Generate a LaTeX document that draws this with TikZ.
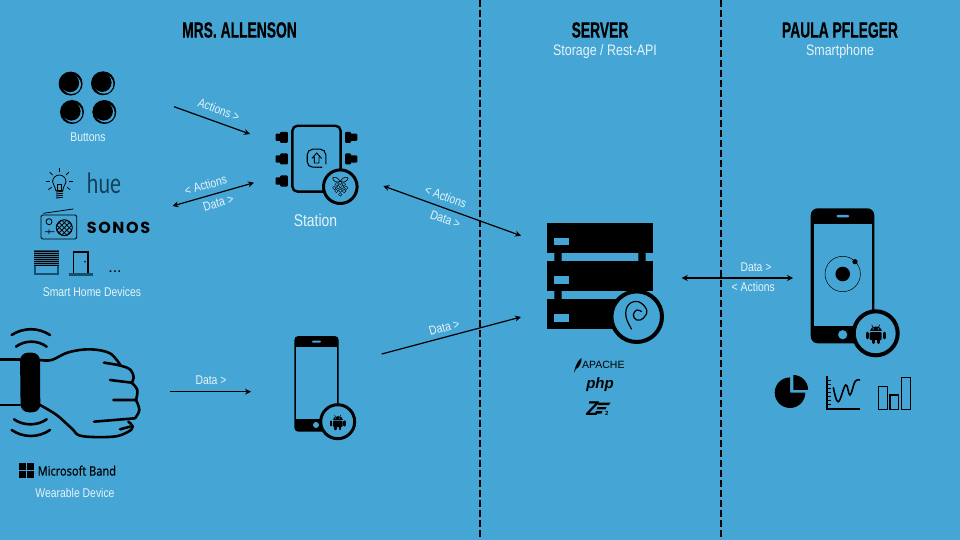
\documentclass[tikz,border=0pt]{standalone}
\usepackage{fontspec}
\usetikzlibrary{arrows.meta}
\setmainfont{Liberation Sans}[FakeStretch=0.82]
\newfontfamily\headfont{Liberation Sans}[FakeStretch=0.63,BoldFeatures={FakeBold=0.5}]
\newfontfamily\plainfont{Liberation Sans}
\newfontfamily\msfont{Open Sans}[FakeStretch=0.85,FakeBold=0.6]
\newfontfamily\huefont{Lato}[FakeStretch=0.74]
\newfontfamily\sonosfont{Poppins}[LetterSpace=10]
\definecolor{sky}{HTML}{45A6D5}
\definecolor{paper}{HTML}{E6F3FA}
\definecolor{navy}{HTML}{16506F}
\tikzstyle{lane} = [draw, line width=1.5pt, dash pattern=on 7pt off 3pt]
\tikzstyle{flow} = [draw, line width=1.2pt, -{Stealth[length=6pt,width=6pt]}]
\tikzstyle{both flow} = [draw, line width=1.2pt, {Stealth[length=6pt,width=6pt]}-{Stealth[length=6pt,width=6pt]}]
\tikzstyle{title} = [inner sep=0pt, font=\headfont\bfseries\fontsize{22}{22}\selectfont]
\tikzstyle{sub title} = [inner sep=0pt, text=paper, font=\fontsize{15.2}{16}\selectfont]
\tikzstyle{caption} = [inner sep=0pt, text=paper, font=\fontsize{12.7}{13}\selectfont]
\tikzstyle{badge} = [draw, fill=sky]
\def\laneEnds{(480,0)/laneA, (721,0)/laneB, (480,540)/laneAend, (721,540)/laneBend}
\def\flowEnds{(174,106.7)/actFrom, (250,134)/actTo, (172.5,206)/homeFrom, (254,182.7)/homeTo, (170,391.7)/bandFrom, (251,391.7)/bandTo, (383.3,186)/stationFrom, (521,235.7)/stationTo, (381.7,354)/phoneFrom, (521,317)/phoneTo, (681.7,278)/serverFrom, (793,278)/serverTo}
\def\captions{(88,137)/capButtons/Buttons, (92,292)/capHome/Smart Home Devices, (75,493)/capWear/Wearable Device, (211,380)/capBand/Data >, (756,267.3)/capOut/Data >, (753.3,287.3)/capIn/< Actions}
\def\slanted{(219,109.5)/slantA/-20/Actions >, (205.7,185)/slantB/16/< Actions, (218.3,202.7)/slantC/16/Data >, (445.7,196.7)/slantD/-20/< Actions, (445.3,219.3)/slantE/-20/Data >, (444.3,327.3)/slantF/15/Data >}
% android head at #1,#2 with size #3
\def\droid#1#2#3{
  \begin{scope}[shift={(#1,#2)},scale=#3]
    \fill (-4.8,-1.8) .. controls (-4.8,-6.6) and (4.8,-6.6) .. (4.8,-1.8) -- cycle;
    \fill[sky] (-2.1,-3.5) circle [radius=0.6] (2.1,-3.5) circle [radius=0.6];
    \draw[line width=#3*0.5pt] (-3.2,-6.8) -- (-2.2,-5) (3.2,-6.8) -- (2.2,-5);
    \fill[rounded corners=1] (-4.8,-1) -- (4.8,-1) -- (4.8,5.4) -- (-4.8,5.4) -- cycle;
    \draw[line width=#3*2.4pt, line cap=round] (-6.9,-0.2) -- (-6.9,3.6) (6.9,-0.2) -- (6.9,3.6) (-2.1,5) -- (-2.1,7.4) (2.1,5) -- (2.1,7.4);
  \end{scope}
}
\begin{document}
\begin{tikzpicture}[x=1pt,y=-1pt]

  \useasboundingbox (0,0) rectangle (960,540);
  \fill[sky] (0,0) rectangle (960,540);

  \foreach \pos/\name in \laneEnds {
    \node[coordinate] (\name) at \pos {};
    }
  \path[lane] (laneA) -- (laneAend);
  \path[lane] (laneB) -- (laneBend);

  \node[title] (headAllenson) at (239.5,30) {MRS. ALLENSON};
  \node[title] (headServer) at (600,30) {SERVER};
  \node[title] (headPaula) at (840,30) {PAULA PFLEGER};
  \node[sub title] (subServer) at (605,52) {Storage / Rest-API};
  \node[sub title] (subPaula) at (840,52) {Smartphone};
  \node[sub title,font=\fontsize{17}{17}\selectfont] (capStation) at (315.5,220) {Station};

  \foreach \pos/\name/\txt in \captions {
    \node[caption] (\name) at \pos {\txt};
    }
  \foreach \pos/\name/\rot/\txt in \slanted {
    \node[caption,rotate=\rot] (\name) at \pos {\txt};
    }

  \foreach \pos/\name in \flowEnds {
    \node[coordinate] (\name) at \pos {};
    }
  \path[flow] (actFrom) -- (actTo);
  \path[both flow] (homeFrom) -- (homeTo);
  \path[flow] (bandFrom) -- (bandTo);
  \path[both flow] (stationFrom) -- (stationTo);
  \path[flow] (phoneFrom) -- (phoneTo);
  \path[both flow] (serverFrom) -- (serverTo);

  % buttons
  \foreach \bx/\by in {70.6/83.6, 103/83.3, 72/112, 104.3/112} {
    \fill (\bx,\by) circle [radius=12];
    \fill[sky] (\bx+0.9,\by+0.9) circle [radius=9.5];
    \fill (\bx-0.6,\by-0.6) circle [radius=9.2];
    }

  % hue lamp
  \draw[line width=0.8pt] (55.7,190.5) .. controls (55,185) and (52.6,185) .. (52.6,181.7)
    arc [start angle=180,end angle=360,radius=6.7]
    .. controls (66,185) and (63.5,185) .. (62.8,190.5) -- cycle;
  \draw[line width=0.7pt] (57.7,190) -- (57.7,184.5) -- (61,184.5) -- (61,190);
  \foreach \wy in {192,194,196,198} {
    \draw[line width=0.9pt] (56,\wy) -- (63,\wy-0.8);
    }
  \foreach \ang in {-180,-135,-90,-45,0,36,144} {
    \draw[line width=0.8pt] (59.3,181.7) ++(\ang:9.5) -- ++(\ang:4);
    }
  \node[inner sep=0pt,text=navy!80!black,font=\huefont\fontsize{28}{28}\selectfont] (logoHue) at (104,183.5) {hue};

  % radio
  \draw[line width=0.8pt,rounded corners=1.5] (41,215) rectangle (76.7,239);
  \draw[line width=0.8pt] (43.3,213.3) -- (73.3,209);
  \draw[line width=0.8pt] (49,221.7) circle [radius=3] (45,231.7) -- (54.3,231.7) (49,229.3) -- (49,234);
  \begin{scope}
    \clip (64.3,227.7) circle [radius=8];
    \foreach \off in {-15,-10,-5,0,5,10,15} {
      \draw[line width=0.8pt] (56.3+\off,219.7) -- (72.3+\off,235.7);
      \draw[line width=0.8pt] (72.3+\off,219.7) -- (56.3+\off,235.7);
      }
  \end{scope}
  \draw[line width=0.9pt] (64.3,227.7) circle [radius=8];
  \node[inner sep=0pt,font=\sonosfont\bfseries\fontsize{16}{16}\selectfont] (logoSonos) at (118.5,228.3) {SONOS};

  % shutter, door
  \fill[navy] (34,250) rectangle (59.3,274.7);
  \fill[sky!75!black] (34,250.5) rectangle (59.3,265);
  \fill[sky] (36,265.5) rectangle (57.3,272.7);
  \foreach \sy in {251,253,255,257,259,261,263,265} {
    \draw[line width=1pt] (34,\sy) -- (59.3,\sy);
    }
  \draw[line width=1.3pt] (73.5,272.5) -- (73.5,252) -- (88,252) -- (88,272.5);
  \fill (85,261.7) circle [radius=0.9];
  \fill[navy] (69.3,272.7) rectangle (92.7,275.7);
  \node[inner sep=0pt,font=\plainfont\fontsize{16}{16}\selectfont] (moreDots) at (115,272) {...};

  % station
  \draw[line width=2.4pt,rounded corners=5] (292.4,125.8) rectangle (340.6,191.6);
  \foreach \py in {137.3,159,181} {
    \fill[rounded corners=1] (275.5,\py-3.6) rectangle (282,\py+3.6);
    \fill[rounded corners=1] (280,\py-5.5) rectangle (287.8,\py+5.5);
    }
  \foreach \py in {137.3,159} {
    \fill[rounded corners=1] (345,\py-5.5) rectangle (351,\py+5.5);
    \fill[rounded corners=1] (349,\py-3.6) rectangle (357.3,\py+3.6);
    }
  \draw[line width=1.1pt,rounded corners=5.5] (322,167.2) -- (307.2,167.2) -- (307.2,149.2) -- (325.8,149.2) -- (325.8,164.5);
  \draw[line width=0.9pt] (311.8,158.5) -- (316.7,153) -- (321.6,158.5) (314.3,157) -- (314.3,163) -- (319,163) -- (319,157);
  \draw[line width=1pt,dash pattern=on 1pt off 0.6pt] (315,167.5) -- (323,167.5);
  \draw[badge,line width=3pt] (340.3,186.7) circle [radius=16.8];
  \foreach \bx/\by in {340.3/182.8, 336.8/184.3, 343.8/184.3, 334.4/187.8, 346.2/187.8, 338.3/187.3, 342.3/187.3, 340.3/190.6, 336.4/191, 344.2/191, 340.3/194.4} {
    \draw[line width=0.4pt] (\bx,\by) circle [radius=1.8];
    }
  \draw[line width=0.6pt] (340.3,181.5) .. controls (337,176) and (333.5,177) .. (332.7,178) .. controls (333,181) and (336,183) .. (340.3,181.5)
    .. controls (343,176) and (347,177) .. (348,178) .. controls (347.5,181) and (344.5,183) .. (340.3,181.5);

  % wrist with band
  \begin{scope}[shift={(0,310)},x=0.3333pt,y=-0.3333pt,line width=2.6pt,line cap=round]
    \draw (0,148) -- (60,148) (0,285) -- (60,285);
    \draw plot [smooth,tension=0.6] coordinates {(120,150) (155,150) (205,127) (270,118) (330,130) (362,167)};
    \draw plot [smooth,tension=0.6] coordinates {(312,158) (362,167) (392,180) (401,203) (395,218)};
    \draw (330,210) -- (395,218) (340,270) -- (408,270) (282,335) -- (405,325) (360,358) -- (390,350);
    \draw plot [smooth,tension=0.6] coordinates {(395,218) (412,240) (408,270)};
    \draw plot [smooth,tension=0.6] coordinates {(408,270) (418,300) (405,325)};
    \draw plot [smooth,tension=0.6] coordinates {(385,335) (398,350) (385,365) (340,380) (245,378) (215,355) (170,315) (120,285)};
    \draw (35,75) .. controls (70,52) and (115,52) .. (150,75);
    \draw (48,110) .. controls (75,90) and (113,90) .. (140,110);
    \draw (42,328) .. controls (70,348) and (112,348) .. (140,328);
    \draw (35,360) .. controls (70,384) and (115,384) .. (150,360);
    \fill[rounded corners=8pt] (60,128) -- (120,128) -- (121,307) -- (62,307) -- cycle;
  \end{scope}

  % microsoft band
  \foreach \sx/\sy in {19.3/463.3, 27/463.3, 19.3/471, 27/471} {
    \fill (\sx,\sy) rectangle ++(7,7);
    }
  \node[inner sep=0pt,anchor=west,font=\msfont\fontsize{13}{14}\selectfont] (logoBand) at (37.5,470.7) {Microsoft Band};

  % phone at the wrist
  \fill[rounded corners=4] (294.3,336) rectangle (338.7,431.7);
  \fill[sky] (296,346.7) rectangle (337.3,419);
  \fill[sky,rounded corners=1] (312,340.7) rectangle (321,342.7);
  \fill[sky] (316,425) circle [radius=3];
  \draw[badge,line width=3pt] (337.7,421.7) circle [radius=17];
  \droid{337.7}{421.7}{1}

  % server
  \foreach \uy in {222.7,260.8,299} {
    \fill (546.7,\uy) rectangle (653.3,\uy+30.2);
    \fill[sky] (554.3,\uy+15.3) rectangle (569.3,\uy+22.7);
    }
  \fill (554.3,252) rectangle (561.7,261) (638.3,252) rectangle (645.7,261) (554.3,290) rectangle (561.7,300);
  \draw[badge,line width=4pt] (636.7,316.7) circle [radius=25.3];
  \draw[line width=1.2pt] plot [smooth,tension=0.7] coordinates {(631.7,329.3) (626,316.7) (628.3,305) (638.3,301.7) (646.7,310) (643.3,318.3) (636.7,320) (633.3,315) (636.7,310) (641.7,311.7)};

  % software under the server
  \fill (574,372.7) .. controls (575,366) and (578,360) .. (581.5,358) .. controls (582,362) and (579,368) .. (576,369) -- cycle;
  \node[inner sep=0pt,font=\plainfont\fontsize{10.5}{11}\selectfont] (logoApache) at (603.3,365.3) {APACHE};
  \node[inner sep=0pt,font=\plainfont\bfseries\itshape\fontsize{15}{15}\selectfont] (logoPhp) at (600,384.5) {php};
  \node[inner sep=0pt,font=\plainfont\bfseries\itshape\fontsize{20}{20}\selectfont] (logoZend) at (592.5,408.5) {Z};
  \fill (599,402.6) -- (610.5,402.6) -- (609,405) -- (598,405) -- cycle;
  \fill (597.5,407) -- (606.5,407) -- (605.5,409.3) -- (596.5,409.3) -- cycle;
  \fill (596,411) -- (602.5,411) -- (601.5,413.5) -- (595,413.5) -- cycle;
  \node[inner sep=0pt,font=\plainfont\bfseries\fontsize{6}{6}\selectfont] (logoZendTwo) at (606.7,413.3) {2};

  % big phone
  \fill[rounded corners=7] (810.7,208.3) rectangle (874.3,343.3);
  \fill[sky] (813.7,224.3) rectangle (871.7,326);
  \fill[sky,rounded corners=1] (836.7,214.8) rectangle (849,217.4);
  \fill[sky] (842.7,334.7) circle [radius=4.6];
  \fill (842.7,274) circle [radius=7.3];
  \draw[line width=0.5pt] (842.7,274) circle [radius=17.7];
  \fill (855,261.7) circle [radius=2.6];
  \draw[badge,line width=4pt] (875.7,333.3) circle [radius=22];
  \droid{875.7}{333.3}{1.25}

  % charts
  \fill (790,392.7) -- (790,377.4) arc [start angle=-90,end angle=-360,radius=15.3] -- cycle;
  \fill (793.3,390) -- (793.3,375) arc [start angle=-90,end angle=0,radius=14.8] -- cycle;
  \draw[line width=1.7pt] (827.3,376) -- (827.3,409.3) -- (860,409.3);
  \foreach \ty in {380,384,388,392,396,400,404} {
    \draw[line width=1pt] (827.3,\ty) -- (831,\ty);
    }
  \draw[line width=1.6pt] plot [smooth,tension=0.7] coordinates {(833.3,387.3) (838.3,401.7) (845.7,385) (850,395) (855,381.7) (860,380)};
  \draw[line width=1.5pt] (878.5,409.3) rectangle (887.3,386.7);
  \draw[line width=1.5pt] (890,409.3) rectangle (898.7,395);
  \draw[line width=1.5pt] (901.7,409.3) rectangle (910.7,377.3);

\end{tikzpicture}
\end{document}
